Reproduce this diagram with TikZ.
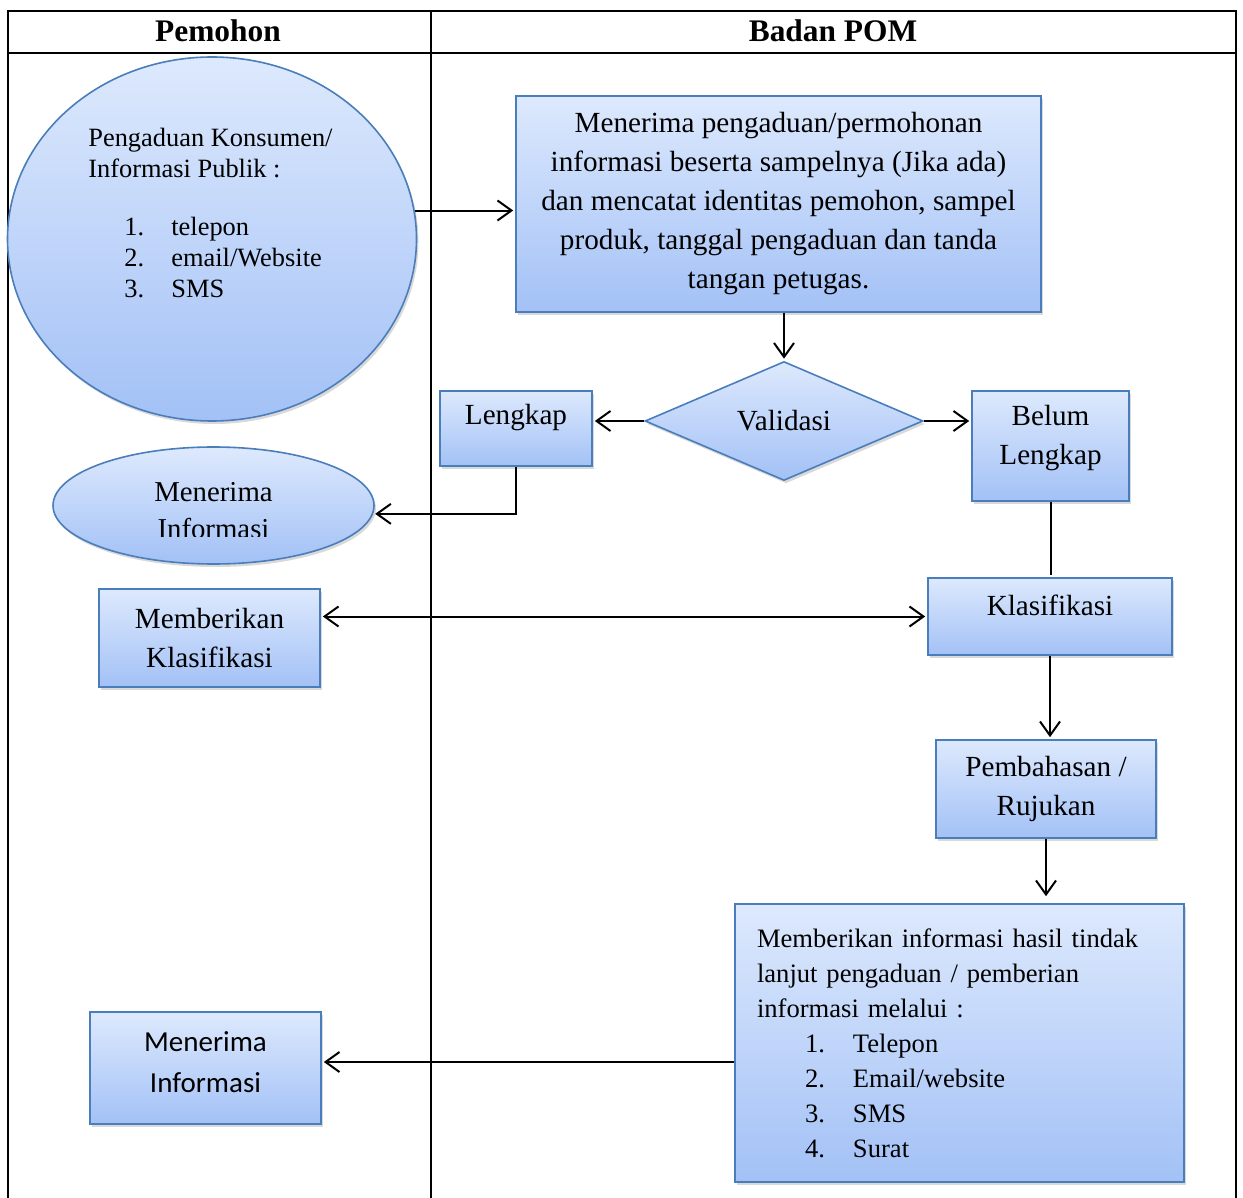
\documentclass[tikz,border=0pt]{standalone}
\usepackage{fontspec}
\setmainfont{Liberation Serif}
\newfontfamily\calibrifont{Carlito}
\usetikzlibrary{shapes.geometric,arrows.meta,shadows,calc}
\definecolor{boxtop}{HTML}{DDE9FD}
\definecolor{boxbot}{HTML}{A3C1F6}
\definecolor{boxline}{HTML}{4A7EBB}
\begin{document}
\begin{tikzpicture}[x=0.5pt, y=-0.5pt, >={Straight Barb[length=7pt,width=10pt]},
  flow/.style={draw=boxline, line width=0.8pt, top color=boxtop, bottom color=boxbot,
    drop shadow={shadow xshift=1pt, shadow yshift=-1.5pt, opacity=0.3}},
  main box/.style={flow, rectangle, inner sep=2pt, align=center, font=\fontsize{14.6}{19.5}\selectfont},
  conn/.style={line width=1pt, shorten >=1pt},
  table line/.style={line width=1pt}]
\useasboundingbox (0,0) rectangle (1243,1198);
% table
\draw[table line] (8,1198) -- (8,11) -- (1236,11) -- (1236,1198);
\draw[table line] (8,53) -- (1236,53);
\draw[table line] (431,11) -- (431,1198);
\node[font=\fontsize{15.7}{18}\selectfont\bfseries] (hdrpemohon) at (218,31) {Pemohon};
\node[font=\fontsize{15.7}{18}\selectfont\bfseries] (hdrbpom) at (833,31) {Badan POM};
\begin{scope}
\node[flow, ellipse, minimum width=204.5pt, minimum height=182pt, inner sep=0pt] (consumer) at (212,239) {};
\node[anchor=north west, inner sep=0pt, align=left, font=\fontsize{13.2}{15.5}\selectfont] (consumertext) at (88,128)
  {Pengaduan Konsumen/\\Informasi Publik :\\[13.5pt]
   \hspace*{18pt}\makebox[23.5pt][l]{1.}telepon\\
   \hspace*{18pt}\makebox[23.5pt][l]{2.}email/Website\\
   \hspace*{18pt}\makebox[23.5pt][l]{3.}SMS};
\node[main box, minimum width=262.5pt, minimum height=108pt] (intake) at (778.5,204)
  {Menerima pengaduan/permohonan\\informasi beserta sampelnya (Jika ada)\\dan mencatat identitas pemohon, sampel\\produk, tanggal pengaduan dan tanda\\tangan petugas.};
\node[flow, diamond, minimum width=139pt, minimum height=59.5pt, inner sep=0pt, font=\fontsize{14.6}{19.5}\selectfont] (validasi) at (784,421) {Validasi};
\node[main box, minimum width=76pt, minimum height=37.5pt, text depth=13.7pt] (lengkap) at (516,428.5) {Lengkap};
\node[main box, minimum width=78.5pt, minimum height=55pt, text depth=10.7pt] (belum) at (1050.5,446) {Belum\\Lengkap};
\node[flow, ellipse, minimum width=160.5pt, minimum height=58.5pt, inner sep=0pt] (recv1) at (213.5,505.5) {};
\node[main box, minimum width=110.5pt, minimum height=49pt] (memberi) at (209.5,638) {Memberikan\\Klasifikasi};
\node[main box, minimum width=122pt, minimum height=38.5pt, text depth=11.6pt] (klasifikasi) at (1050,616.5) {Klasifikasi};
\node[main box, minimum width=110pt, minimum height=49pt] (bahas) at (1046,789) {Pembahasan /\\Rujukan};
\node[main box, align=left, text width=202.5pt, inner xsep=11pt, minimum height=139pt, font=\fontsize{13.3}{17.5}\selectfont] (hasil) at (959.5,1043)
  {Memberikan informasi hasil tindak\\lanjut pengaduan / pemberian\\informasi melalui :\\
   \hspace*{24pt}\makebox[24pt][l]{1.}Telepon\\
   \hspace*{24pt}\makebox[24pt][l]{2.}Email/website\\
   \hspace*{24pt}\makebox[24pt][l]{3.}SMS\\
   \hspace*{24pt}\makebox[24pt][l]{4.}Surat};
\node[main box, minimum width=115.5pt, minimum height=56pt, text depth=5.5pt, font=\calibrifont\fontsize{14.5}{20.5}\selectfont] (recv2) at (205.5,1068) {Menerima\\Informasi};
\end{scope}
\begin{scope}
\clip (53,440) rectangle (374,536);
\node[align=center, inner sep=0pt, font=\fontsize{14.4}{18.5}\selectfont] (recv1text) at (213.5,511) {Menerima\\Informasi};
\end{scope}
\begin{scope}
\coordinate (recv2in) at ($(recv2.east)+(0,-6)$);
\draw[conn,->] (consumer.8) -- (consumer.8 -| intake.west);
\draw[conn,->] (validasi.north |- intake.south) -- (validasi.north);
\draw[conn,->] (validasi.west) -- (validasi.west -| lengkap.east);
\draw[conn,->] (validasi.east) -- (validasi.east -| belum.west);
\draw[conn,->] (lengkap.south) |- (recv1.-3);
\draw[conn] (belum.south) -- (belum.south |- klasifikasi.north);
\draw[conn,<->, shorten <=1pt] (memberi.east |- klasifikasi.west) -- (klasifikasi.west);
\draw[conn,->] (klasifikasi.south) -- (klasifikasi.south |- bahas.north);
\draw[conn,->, shorten >=3.5pt] (bahas.south) -- (bahas.south |- hasil.north);
\draw[conn,->] (recv2in -| hasil.west) -- (recv2in);
\end{scope}
\end{tikzpicture}
\end{document}
